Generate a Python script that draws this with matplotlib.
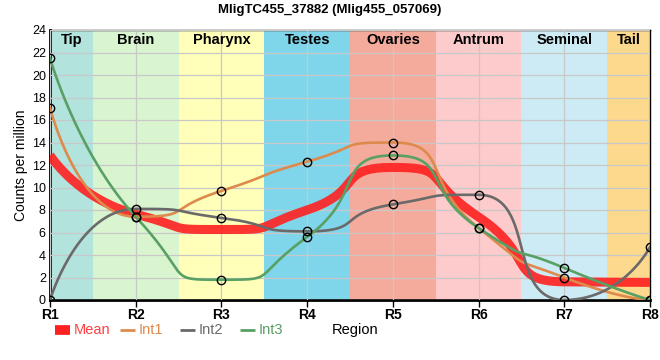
import numpy as np
import matplotlib.pyplot as plt
from matplotlib.lines import Line2D

plt.rcParams['font.family'] = ['Liberation Sans', 'DejaVu Sans']

regions = ['R1', 'R2', 'R3', 'R4', 'R5', 'R6', 'R7', 'R8']
int1 = [17.1, 7.4, 9.7, 12.3, 14.0, 6.4, 2.0, 0.0]
int2 = [0.0, 8.1, 7.3, 6.1, 8.5, 9.35, 0.0, 4.7]
int3 = [21.5, 7.4, 1.8, 5.6, 12.85, 6.4, 2.85, 0.0]

tissues = ['Tip', 'Brain', 'Pharynx', 'Testes', 'Ovaries', 'Antrum', 'Seminal', 'Tail']
band_colors = ['#b3e3dd', '#d9f5d0', '#ffffb9', '#7fd5ea', '#f5ab9c', '#fdcbcc', '#cdebf4', '#fdd98d']

c_mean = '#ff2020'
c1 = '#dd8a4c'
c2 = '#6a6a6a'
c3 = '#58a064'


def spline(y, a=0.68, n=60):
    # bezier spline, control points kept inside the neighbours' range
    y = np.asarray(y, float)
    m = len(y)
    lc = y.copy()
    rc = y.copy()
    for i in range(1, m - 1):
        s = (y[i+1] - y[i-1]) / 2
        l = y[i] - a*s
        r = y[i] + a*s
        if l > max(y[i-1], y[i]) or l < min(y[i-1], y[i]):
            l = min(max(l, min(y[i-1], y[i])), max(y[i-1], y[i]))
            r = 2*y[i] - l
        if r > max(y[i+1], y[i]) or r < min(y[i+1], y[i]):
            r = min(max(r, min(y[i+1], y[i])), max(y[i+1], y[i]))
            l = 2*y[i] - r
        lc[i] = l
        rc[i] = r
    xs, ys = [], []
    t = np.linspace(0, 1, n)
    b0, b1, b2, b3 = (1-t)**3, 3*t*(1-t)**2, 3*t**2*(1-t), t**3
    for i in range(m - 1):
        ax0 = i + (a if i > 0 else 0)
        ax1 = i + 1 - (a if i + 1 < m - 1 else 0)
        xs.append(b0*i + b1*ax0 + b2*ax1 + b3*(i+1))
        ys.append(b0*y[i] + b1*rc[i] + b2*lc[i+1] + b3*y[i+1])
    return np.concatenate(xs), np.concatenate(ys)


xi = np.arange(len(regions))
mean = np.mean([int1, int2, int3], axis=0)

fig = plt.figure(figsize=(6.6, 3.6), dpi=100)
ax = fig.add_axes([50/660, 60/360, 600/660, 270/360])

for i, (name, col) in enumerate(zip(tissues, band_colors)):
    lo = max(i - 0.5, 0)
    hi = min(i + 0.5, len(regions) - 1)
    ax.axvspan(lo, hi, color=col, lw=0, zorder=0)
    ax.text((lo + hi)/2, 23.1, name, ha='center', va='center', fontsize=10.5,
            fontweight='bold', zorder=5)

ax.grid(True, color='#c8c8c8', lw=0.9, zorder=1)
ax.set_axisbelow(False)
for gl in ax.get_xgridlines() + ax.get_ygridlines():
    gl.set_zorder(1)

xm, ym = spline(mean)
ax.plot(xm, ym, color=c_mean, lw=6.5, alpha=0.9, zorder=3, solid_capstyle='butt')
for d, c in [(int1, c1), (int2, c2), (int3, c3)]:
    xs, ys = spline(d)
    ax.plot(xs, ys, color=c, lw=1.9, zorder=4)
    ax.plot(xi, d, 'o', ms=6, mfc='none', mec='black', mew=1, zorder=6, clip_on=True)

ax.set_xlim(0, len(regions) - 1)
ax.set_ylim(0, 24)
ax.set_yticks(range(0, 25, 2))
ax.set_xticks(xi)
ax.set_xticklabels(regions, fontweight='bold', fontsize=10)
ax.tick_params(axis='y', labelsize=9, length=0, pad=3)
ax.tick_params(axis='x', length=5, width=1, pad=1, direction='out')
for side in ['left', 'bottom']:
    ax.spines[side].set_linewidth(2)
for side in ['top', 'right']:
    ax.spines[side].set_linewidth(1)
ax.set_ylabel('Counts per million', fontsize=10, labelpad=3)

fig.suptitle('MligTC455_37882 (Mlig455_057069)', fontsize=9.5, fontweight='bold', y=0.99)

# legend row drawn by hand
leg_y = 1 - 330/360
items = [('Mean', c_mean, 7, 55, 74, '#ff4040'),
         ('Int1', c1, 2, 120, 139, c1),
         ('Int2', c2, 2, 180, 199, c2),
         ('Int3', c3, 2, 240, 259, c3)]
for lab, col, lw, x0, xt, tc in items:
    fig.add_artist(Line2D([x0/660, (x0+15)/660], [leg_y, leg_y], color=col, lw=lw,
                          solid_capstyle='butt'))
    fig.text(xt/660, leg_y, lab, color=tc, fontsize=10.5, va='center')
fig.text(332/660, leg_y, 'Region', fontsize=10.5, va='center')

fig.savefig('out.png', dpi=100)
